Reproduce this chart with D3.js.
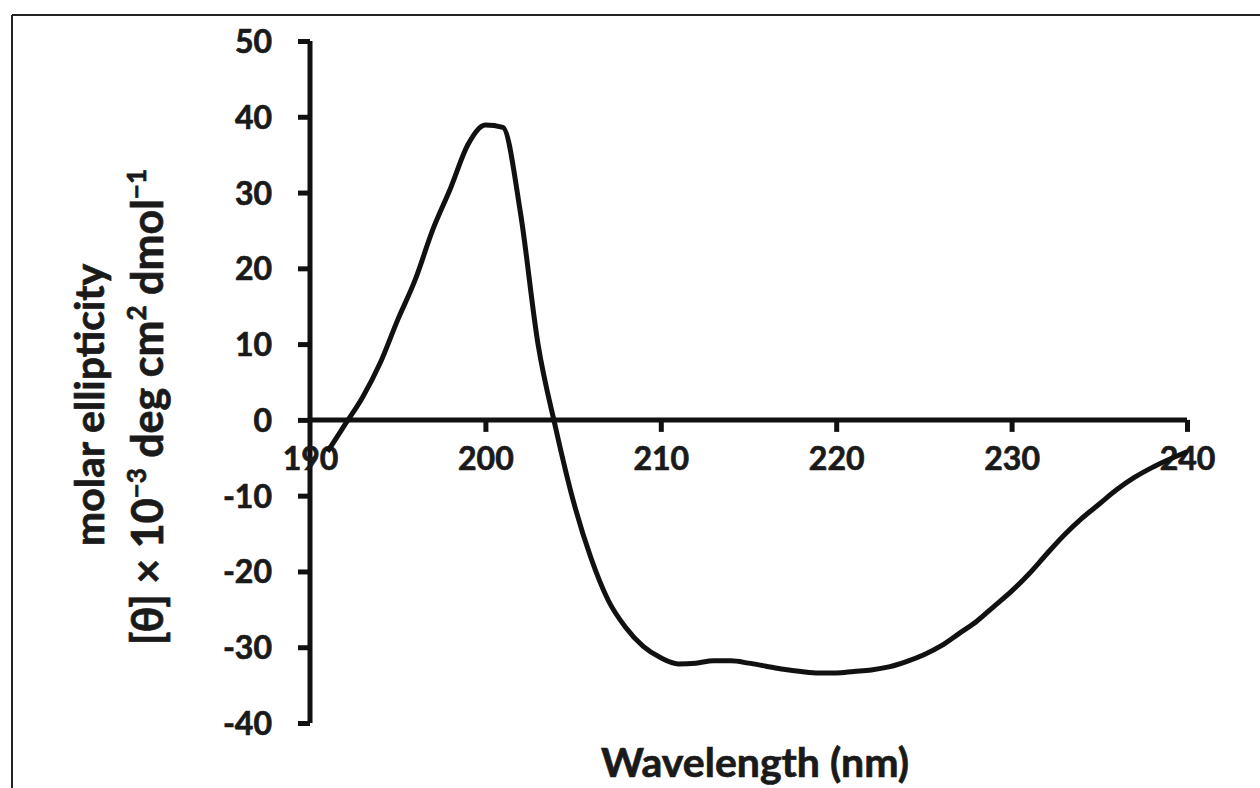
<!DOCTYPE html>
<html>
<head>
<meta charset="utf-8">
<script src="https://cdn.jsdelivr.net/npm/d3@7"></script>
<style>
  html, body { margin: 0; padding: 0; background: #fff; }
  svg { display: block; }
  text { font-family: Lato, "Open Sans", sans-serif; font-weight: 700; fill: #1a1a1a; stroke: #1a1a1a; stroke-width: 0.7px; }
</style>
</head>
<body>
<svg id="chart" width="1260" height="788"></svg>
<script>
const wavelengths = [191,192,193,194,195,196,197,198,199,200,201,202,203,204,205,206,207,208,209,210,
  211,212,213,214,215,216,217,218,219,220,221,222,223,224,225,226,227,228,229,230,
  231,232,233,234,235,236,237,238,239,240];
const ellipticity = [-4.2,-0.6,3.0,7.5,13.2,18.5,25.1,30.5,36.3,38.9,38.6,27.3,10.0,-1.0,-10.6,-18.1,-23.8,-27.4,-29.9,-31.4,
  -32.2,-32.1,-31.8,-31.8,-32.1,-32.5,-32.9,-33.2,-33.4,-33.4,-33.2,-33.0,-32.6,-31.9,-31.0,-29.8,-28.2,-26.6,-24.6,-22.6,
  -20.3,-17.7,-15.2,-13.0,-11.1,-9.2,-7.6,-6.3,-5.2,-4.2];
const xTicks = [190,200,210,220,230,240];
const yTicks = [50,40,30,20,10,0,-10,-20,-30,-40];
const xTitle = "Wavelength (nm)";
const yTitle1 = "molar ellipticity";

const svg = d3.select("#chart");
const x = d3.scaleLinear().domain([190, 240]).range([310, 1187]);
const y = d3.scaleLinear().domain([-40, 50]).range([723, 41]);

// frame lines (top and left)
svg.append("line").attr("x1", 12).attr("x2", 1260).attr("y1", 15).attr("y2", 15)
  .attr("stroke", "#222").attr("stroke-width", 2);
svg.append("line").attr("x1", 12).attr("x2", 12).attr("y1", 15).attr("y2", 788)
  .attr("stroke", "#222").attr("stroke-width", 2);

// y axis
const yAxis = svg.append("g").attr("transform", `translate(${x(190)},0)`)
  .call(d3.axisLeft(y).tickValues(yTicks).tickSize(12).tickPadding(26).tickFormat(d => String(d)));
yAxis.select(".domain").attr("d", `M0,${y(-40)}V${y(50)}`).attr("stroke", "#111").attr("stroke-width", 5);
yAxis.selectAll(".tick line").attr("stroke", "#111").attr("stroke-width", 5);
yAxis.selectAll(".tick text").attr("font-size", 32).attr("dy", "0.36em").style("fill", "#1a1a1a");

// x axis at y=0
const xAxis = svg.append("g").attr("transform", `translate(0,${y(0)})`)
  .call(d3.axisBottom(x).tickValues(xTicks).tickSize(12).tickPadding(15).tickFormat(d => String(d)));
xAxis.select(".domain").attr("d", `M${x(190)},0H${x(240)}`).attr("stroke", "#111").attr("stroke-width", 5);
xAxis.selectAll(".tick line").attr("stroke", "#111").attr("stroke-width", 5)
  .filter(d => d === 190).remove();
xAxis.selectAll(".tick text").attr("font-size", 32).style("fill", "#1a1a1a");

// curve
const line = d3.line()
  .x((d, i) => x(wavelengths[i]))
  .y(d => y(d))
  .curve(d3.curveMonotoneX);
svg.append("path").datum(ellipticity)
  .attr("d", line)
  .attr("fill", "none").attr("stroke", "#111").attr("stroke-width", 5)
  .attr("stroke-linejoin", "round");

// x title
svg.append("text").attr("x", 755).attr("y", 777).attr("text-anchor", "middle")
  .attr("font-size", 41).text(xTitle);

// y title (two lines)
const yt = svg.append("g").attr("transform", "translate(0,405) rotate(-90)");
yt.append("text").attr("x", 0).attr("y", 104).attr("text-anchor", "middle")
  .attr("font-size", 41).text(yTitle1);
const t2 = yt.append("text").attr("x", -2).attr("y", 163).attr("text-anchor", "middle")
  .attr("font-size", 43);
t2.append("tspan").text("[θ] × 10");
t2.append("tspan").attr("font-size", 26).attr("dy", -17).text("−3");
t2.append("tspan").attr("dy", 17).text(" deg cm");
t2.append("tspan").attr("font-size", 26).attr("dy", -17).text("2");
t2.append("tspan").attr("dy", 17).text(" dmol");
t2.append("tspan").attr("font-size", 26).attr("dy", -17).text("−1");
</script>
</body>
</html>
